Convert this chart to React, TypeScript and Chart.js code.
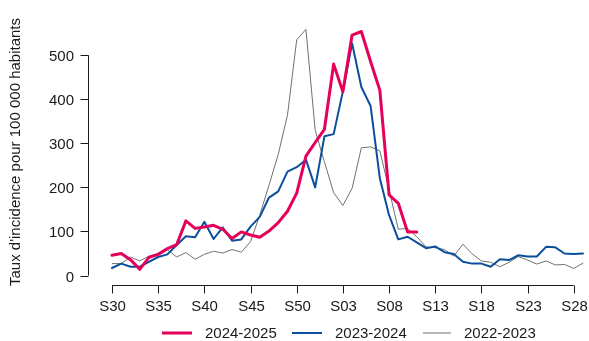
import React, { useEffect, useRef } from "react";
import { Chart, registerables } from "chart.js";

Chart.register(...registerables);

const weeks = [
  "S30", "S31", "S32", "S33", "S34", "S35", "S36", "S37", "S38", "S39",
  "S40", "S41", "S42", "S43", "S44", "S45", "S46", "S47", "S48", "S49",
  "S50", "S51", "S52", "S01", "S02", "S03", "S04", "S05", "S06", "S07",
  "S08", "S09", "S10", "S11", "S12", "S13", "S14", "S15", "S16", "S17",
  "S18", "S19", "S20", "S21", "S22", "S23", "S24", "S25", "S26", "S27",
  "S28", "S29",
];

const xTickLabels = ["S30", "S35", "S40", "S45", "S50", "S03", "S08", "S13", "S18", "S23", "S28"];
const yTickValues = [0, 100, 200, 300, 400, 500];

const season2425 = [
  46, 50, 36, 14, 41, 48, 61, 70, 124, 107,
  110, 114, 105, 84, 99, 92, 87, 101, 120, 146,
  187, 271, 302, 332, 480, 417, 546, 554, 486, 421,
  183, 164, 99, 99,
];

const season2324 = [
  17, 27, 20, 20, 31, 42, 48, 69, 89, 87,
  122, 83, 109, 79, 82, 111, 133, 177, 191, 236,
  246, 263, 200, 316, 321, 418, 527, 428, 385, 221,
  137, 82, 88, 75, 62, 66, 53, 49, 31, 27,
  27, 20, 37, 35, 46, 43, 43, 65, 64, 50,
  49, 50,
];

const season2223 = [
  27, 27, 42, 33, 44, 50, 59, 42, 52, 37,
  48, 55, 51, 59, 53, 77, 137, 205, 275, 364,
  535, 559, 330, 258, 188, 159, 198, 290, 292, 283,
  195, 105, 107, 88, 65, 63, 59, 44, 71, 49,
  33, 30, 20, 30, 43, 35, 26, 33, 24, 25,
  16, 28,
];

const seriesNames = ["2024-2025", "2023-2024", "2022-2023"];
const seriesColors = ["#e5005a", "#0b4f9c", "#707070"];
const seriesWidths = [3, 2, 1];

const yTitle = "Taux d'incidence pour 100 000 habitants";
const FONT = '15px "Liberation Sans", Arial, Helvetica, sans-serif';
const INK = "#1a1a1a";

const axesPlugin = {
  id: "rAxes",
  afterDraw(chart: any) {
    const ctx = chart.ctx as CanvasRenderingContext2D;
    const xs = chart.scales.x;
    const ys = chart.scales.y;
    ctx.save();
    ctx.strokeStyle = INK;
    ctx.fillStyle = INK;
    ctx.lineWidth = 1;
    ctx.font = FONT;

    // Y axis
    const yAxisX = 88.5;
    const y0 = ys.getPixelForValue(yTickValues[0]);
    const y1 = ys.getPixelForValue(yTickValues[yTickValues.length - 1]);
    ctx.beginPath();
    ctx.moveTo(yAxisX, y0);
    ctx.lineTo(yAxisX, y1);
    ctx.stroke();
    ctx.textAlign = "right";
    ctx.textBaseline = "middle";
    yTickValues.forEach((v) => {
      const py = Math.round(ys.getPixelForValue(v)) + 0.5;
      ctx.beginPath();
      ctx.moveTo(yAxisX - 8, py);
      ctx.lineTo(yAxisX, py);
      ctx.stroke();
      ctx.fillText(String(v), 74, py + 1);
    });

    // X axis
    const xAxisY = 285.5;
    const xa = xs.getPixelForValue(weeks.indexOf(xTickLabels[0]));
    const xb = xs.getPixelForValue(weeks.indexOf(xTickLabels[xTickLabels.length - 1]));
    ctx.beginPath();
    ctx.moveTo(xa, xAxisY);
    ctx.lineTo(xb, xAxisY);
    ctx.stroke();
    ctx.textAlign = "center";
    ctx.textBaseline = "middle";
    xTickLabels.forEach((lab) => {
      const px = Math.round(xs.getPixelForValue(weeks.indexOf(lab))) + 0.5;
      ctx.beginPath();
      ctx.moveTo(px, xAxisY);
      ctx.lineTo(px, xAxisY + 8);
      ctx.stroke();
      ctx.fillText(lab, px, 307);
    });

    // Y title
    ctx.save();
    ctx.translate(16, 152);
    ctx.rotate(-Math.PI / 2);
    ctx.textAlign = "center";
    ctx.textBaseline = "middle";
    ctx.fillText(yTitle, 0, 0);
    ctx.restore();

    // Legend
    const legendX = [162, 292, 423];
    const legendLen = [30, 30, 28];
    const ly = 333;
    seriesNames.forEach((name, i) => {
      ctx.beginPath();
      ctx.strokeStyle = seriesColors[i];
      ctx.lineWidth = seriesWidths[i];
      ctx.moveTo(legendX[i], ly);
      ctx.lineTo(legendX[i] + legendLen[i], ly);
      ctx.stroke();
      ctx.fillStyle = INK;
      ctx.textAlign = "left";
      ctx.textBaseline = "middle";
      ctx.fillText(name, legendX[i] + legendLen[i] + 13, ly + 1);
    });
    ctx.restore();
  },
};

export default function App() {
  const ref = useRef<HTMLCanvasElement | null>(null);

  useEffect(() => {
    document.body.style.margin = "0";
    const canvas = ref.current;
    if (!canvas) return;
    const data = [season2425, season2324, season2223];
    const chart = new Chart(canvas, {
      type: "line",
      data: {
        labels: weeks,
        datasets: seriesNames.map((name, i) => ({
          label: name,
          data: data[i],
          borderColor: seriesColors[i],
          backgroundColor: seriesColors[i],
          borderWidth: seriesWidths[i],
          pointRadius: 0,
          tension: 0,
          fill: false,
          borderJoinStyle: "round" as const,
          borderCapStyle: "round" as const,
          clip: false as any,
        })),
      },
      options: {
        responsive: false,
        animation: false,
        devicePixelRatio: 1,
        layout: { padding: { left: 112, right: 6, top: 22, bottom: 57 } },
        plugins: {
          legend: { display: false },
          tooltip: { enabled: false },
          title: { display: false },
        },
        scales: {
          x: { type: "category", display: false, offset: false },
          y: { type: "linear", display: false, min: -19.3, max: 575.6 },
        },
      },
      plugins: [axesPlugin],
    });
    return () => chart.destroy();
  }, []);

  return (
    <div style={{ width: 589, height: 341, background: "#fff" }}>
      <canvas ref={ref} width={589} height={341} style={{ display: "block" }} />
    </div>
  );
}
